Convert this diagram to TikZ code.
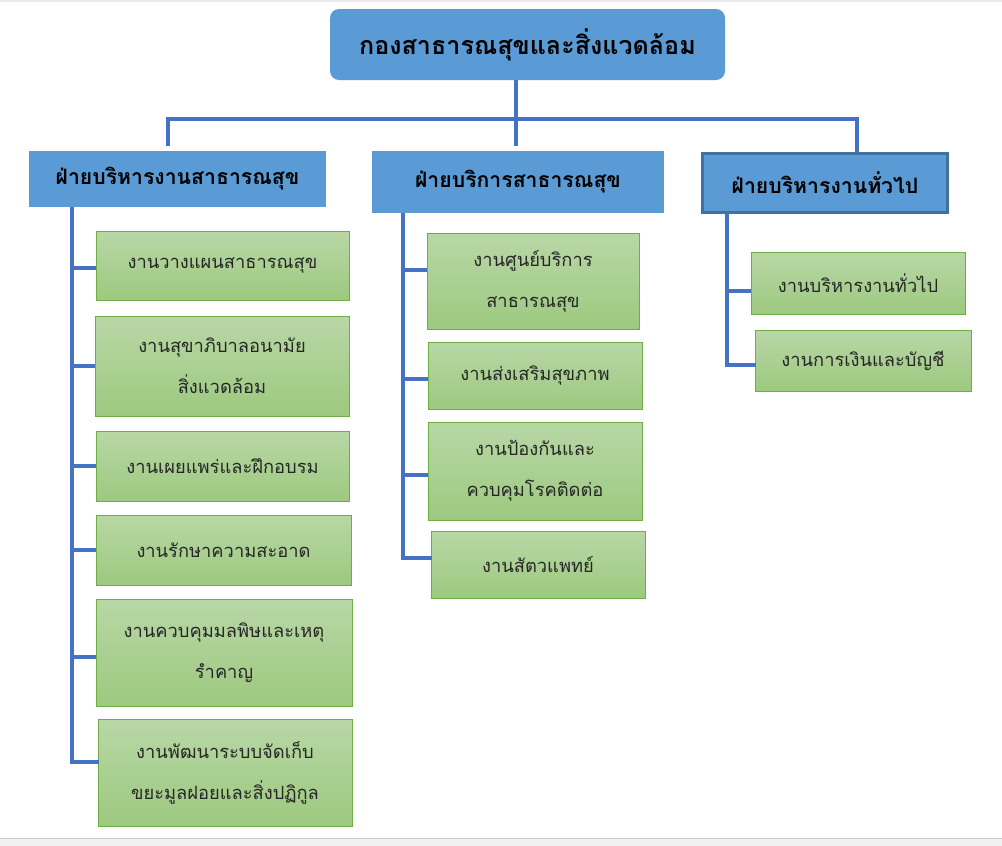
\documentclass[tikz,border=0pt]{standalone}
\usepackage{fontspec}
\newfontfamily\thai[Script=Thai]{Loma}
\definecolor{bluefill}{HTML}{5B9BD5}
\definecolor{blueline}{HTML}{4472C4}
\definecolor{blueborder}{HTML}{41719C}
\definecolor{greenborder}{HTML}{70AD47}
\definecolor{greentop}{RGB}{184,215,166}
\definecolor{greenbot}{RGB}{157,201,127}
\tikzset{
  conn/.style={draw=blueline,line width=3.5pt},
  topbox/.style={fill=bluefill,rounded corners=9pt,inner sep=0pt,
    font={\thai\bfseries\fontsize{25.1}{30}\selectfont}},
  divbox/.style={fill=bluefill,inner sep=0pt,
    font={\thai\bfseries\fontsize{21.2}{26}\selectfont}},
  greenbox/.style={draw=greenborder,line width=1pt,top color=greentop,bottom color=greenbot,
    inner sep=0pt,align=center,text=black!85,
    font={\thai\fontsize{18.3}{41}\selectfont}}
}
\begin{document}
\begin{tikzpicture}[x=1pt,y=-1pt]
\useasboundingbox (0,0) rectangle (1002,846);
\fill[white] (0,0) rectangle (1002,846);
\fill[black!8] (0,0) rectangle (1002,2);
\fill[black!6] (0,838) rectangle (1002,846);
\draw[black!20,line width=1pt] (0,838) -- (1002,838);

% top
\node[topbox,minimum width=395pt,minimum height=71pt] (top) at (527.5,44.5) {กองสาธารณสุขและสิ่งแวดล้อม};

% divisions
\node[divbox,minimum width=297pt,minimum height=56pt] (d1) at (177.5,179) {ฝ่ายบริหารงานสาธารณสุข};
\node[divbox,minimum width=292pt,minimum height=62pt] (d2) at (518,182) {ฝ่ายบริการสาธารณสุข};
\node[divbox,draw=blueborder,line width=3pt,minimum width=245pt,minimum height=59pt] (d3) at (825,183) {ฝ่ายบริหารงานทั่วไป};

% bus
\coordinate (bus) at (516,119);
\coordinate (busL) at (168,119);
\coordinate (busR) at (857,119);
\coordinate (endL) at (168,146);
\coordinate (endM) at (516,146);
\draw[conn] (top.south -| bus) -- (bus);
\draw[conn,line cap=rect] (busL) -- (busR);
\draw[conn] (busL) -- (endL);
\draw[conn] (bus) -- (endM);
\draw[conn] (busR) -- (busR |- d3.north);

% left column
\node[greenbox,minimum width=253pt,minimum height=69pt] (l1) at (222.5,265.5) {งานวางแผนสาธารณสุข};
\node[greenbox,minimum width=254pt,minimum height=100pt] (l2) at (222,366) {งานสุขาภิบาลอนามัย\\สิ่งแวดล้อม};
\node[greenbox,minimum width=253pt,minimum height=70pt] (l3) at (222.5,466) {งานเผยแพร่และฝึกอบรม};
\node[greenbox,minimum width=255pt,minimum height=70pt] (l4) at (223.5,550) {งานรักษาความสะอาด};
\node[greenbox,minimum width=256pt,minimum height=107pt] (l5) at (224,652.5) {งานควบคุมมลพิษและเหตุ\\รำคาญ};
\node[greenbox,minimum width=254pt,minimum height=107pt] (l6) at (225,772.5) {งานพัฒนาระบบจัดเก็บ\\ขยะมูลฝอยและสิ่งปฏิกูล};
\coordinate (sL) at (72,207);
\coordinate (eL) at (72,762);
\draw[conn] (sL) -- (eL);
\draw[conn] (sL |- 0,268) -- (l1.west |- 0,268);
\draw[conn] (sL |- l2.west) -- (l2.west);
\draw[conn] (sL |- l3.west) -- (l3.west);
\draw[conn] (sL |- l4.west) -- (l4.west);
\draw[conn] (sL |- 0,657) -- (l5.west |- 0,657);
\draw[conn,line cap=rect] (eL) -- (l6.west |- eL);

% middle column
\node[greenbox,minimum width=212pt,minimum height=96pt] (m1) at (533,281) {งานศูนย์บริการ\\สาธารณสุข};
\node[greenbox,minimum width=214pt,minimum height=67pt] (m2) at (535,375.5) {งานส่งเสริมสุขภาพ};
\node[greenbox,minimum width=214pt,minimum height=98pt] (m3) at (535,471) {งานป้องกันและ\\ควบคุมโรคติดต่อ};
\node[greenbox,minimum width=214pt,minimum height=67pt] (m4) at (538,564.5) {งานสัตวแพทย์};
\coordinate (sM) at (403,213);
\coordinate (eM) at (403,558);
\draw[conn] (sM) -- (eM);
\draw[conn] (sM |- 0,270) -- (m1.west |- 0,270);
\draw[conn] (sM |- 0,379) -- (m2.west |- 0,379);
\draw[conn] (sM |- 0,475) -- (m3.west |- 0,475);
\draw[conn,line cap=rect] (eM) -- (m4.west |- eM);

% right column
\node[greenbox,minimum width=214pt,minimum height=62pt] (r1) at (858,283) {งานบริหารงานทั่วไป};
\node[greenbox,minimum width=216pt,minimum height=61pt] (r2) at (863,360.5) {งานการเงินและบัญชี};
\coordinate (sR) at (727,214);
\coordinate (eR) at (727,365);
\draw[conn] (sR) -- (eR);
\draw[conn] (sR |- 0,291) -- (r1.west |- 0,291);
\draw[conn,line cap=rect] (eR) -- (r2.west |- eR);
\end{tikzpicture}
\end{document}
